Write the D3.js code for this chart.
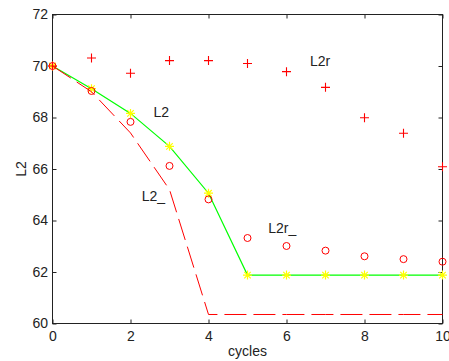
<!DOCTYPE html>
<html>
<head>
<meta charset="utf-8">
<script src="https://cdn.jsdelivr.net/npm/d3@7"></script>
<style>
  body { margin: 0; background: #fff; }
  svg { display: block; font-family: "Liberation Sans", Arial, sans-serif; }
</style>
</head>
<body>
<div id="chart"></div>
<script>
var svgWidth = 449;
var svgHeight = 361;

// data
var cycles = [0, 1, 2, 3, 4, 5, 6, 7, 8, 9, 10];
var L2 = [70, 69.12, 68.16, 66.88, 65.06, 61.88, 61.88, 61.88, 61.88, 61.88, 61.88];
var L2_ = [70, 69.0, 67.4, 65.2, 60.35, 60.35, 60.35, 60.35, 60.35, 60.35, 60.35];
var L2r = [70, 70.31, 69.72, 70.21, 70.21, 70.1, 69.78, 69.17, 67.99, 67.39, 66.09];
var L2r_ = [70, 69.03, 67.83, 66.12, 64.82, 63.32, 63.01, 62.83, 62.61, 62.5, 62.4];

var xTicks = [0, 2, 4, 6, 8, 10];
var yTicks = [60, 62, 64, 66, 68, 70, 72];

var labels = [
  { text: "L2", x: 2.59, y: 68.2 },
  { text: "L2r", x: 6.6, y: 70.21 },
  { text: "L2_", x: 2.29, y: 64.95 },
  { text: "L2r_", x: 5.53, y: 63.71 }
];

var margin = { top: 14.5, left: 52.5 };
var width = 390;
var height = 309;

var svg = d3.select("#chart")
  .append("svg")
  .attr("width", svgWidth)
  .attr("height", svgHeight);

var chartGroup = svg.append("g")
  .attr("transform", `translate(${margin.left}, ${margin.top})`);

var x = d3.scaleLinear().domain([0, 10]).range([0, width]);
var y = d3.scaleLinear().domain([60, 72]).range([height, 0]);

// axes, ticks pointing inward on all four sides
var axisColor = "#222";
function styleAxis(g) {
  g.select(".domain").remove();
  g.selectAll("line").attr("stroke", axisColor);
  g.selectAll("text").attr("fill", axisColor).style("font-size", "14px");
}

chartGroup.append("g")
  .attr("transform", `translate(0, ${height})`)
  .call(d3.axisBottom(x).tickValues(xTicks).tickSizeInner(-4).tickSizeOuter(0).tickPadding(7.5))
  .call(styleAxis);

chartGroup.append("g")
  .call(d3.axisLeft(y).tickValues(yTicks).tickSizeInner(-4).tickSizeOuter(0).tickPadding(4.5))
  .call(styleAxis);

chartGroup.append("g")
  .call(d3.axisTop(x).tickValues(xTicks).tickSizeInner(-4).tickSizeOuter(0).tickFormat(""))
  .call(styleAxis);

chartGroup.append("g")
  .attr("transform", `translate(${width}, 0)`)
  .call(d3.axisRight(y).tickValues(yTicks).tickSizeInner(-4).tickSizeOuter(0).tickFormat(""))
  .call(styleAxis);

chartGroup.append("rect")
  .attr("width", width)
  .attr("height", height)
  .attr("fill", "none")
  .attr("stroke", axisColor)
  .attr("stroke-width", 1);

// L2: green line with yellow stars
var line = d3.line()
  .x((d, i) => x(cycles[i]))
  .y(d => y(d));

chartGroup.append("path")
  .datum(L2)
  .attr("d", line)
  .attr("fill", "none")
  .attr("stroke", "#00ff00")
  .attr("stroke-width", 1.2);

function starPath(r) {
  var d = r * 0.72;
  return `M${-r},0L${r},0M0,${-r}L0,${r}M${-d},${-d}L${d},${d}M${-d},${d}L${d},${-d}`;
}

chartGroup.selectAll(".star")
  .data(L2)
  .enter()
  .append("path")
  .attr("class", "star")
  .attr("transform", (d, i) => `translate(${x(cycles[i])}, ${y(d)})`)
  .attr("d", starPath(4.5))
  .attr("stroke", "#ffff00")
  .attr("stroke-width", 1.2);

// L2_: red dashed line
chartGroup.append("path")
  .datum(L2_)
  .attr("d", line)
  .attr("fill", "none")
  .attr("stroke", "#ff0000")
  .attr("stroke-width", 1)
  .attr("stroke-dasharray", "22,7");

// L2r: red plus markers
chartGroup.selectAll(".plus")
  .data(L2r)
  .enter()
  .append("path")
  .attr("class", "plus")
  .attr("transform", (d, i) => `translate(${x(cycles[i])}, ${y(d)})`)
  .attr("d", "M-4.5,0L4.5,0M0,-4.5L0,4.5")
  .attr("stroke", "#ff0000")
  .attr("stroke-width", 1.1);

// L2r_: red circles
chartGroup.selectAll(".ring")
  .data(L2r_)
  .enter()
  .append("circle")
  .attr("class", "ring")
  .attr("cx", (d, i) => x(cycles[i]))
  .attr("cy", d => y(d))
  .attr("r", 3.5)
  .attr("fill", "none")
  .attr("stroke", "#ff0000")
  .attr("stroke-width", 1);

// in-plot labels
chartGroup.selectAll(".lbl")
  .data(labels)
  .enter()
  .append("text")
  .attr("class", "lbl")
  .attr("x", d => x(d.x))
  .attr("y", d => y(d.y))
  .attr("dy", "0.36em")
  .attr("fill", axisColor)
  .style("font-size", "14px")
  .text(d => d.text);

// axis titles
chartGroup.append("text")
  .attr("transform", `translate(${width / 2}, 341.5)`)
  .attr("text-anchor", "middle")
  .attr("fill", axisColor)
  .style("font-size", "14px")
  .text("cycles");

chartGroup.append("text")
  .attr("transform", `translate(-27, ${height / 2}) rotate(-90)`)
  .attr("text-anchor", "middle")
  .attr("fill", axisColor)
  .style("font-size", "14px")
  .text("L2");
</script>
</body>
</html>
